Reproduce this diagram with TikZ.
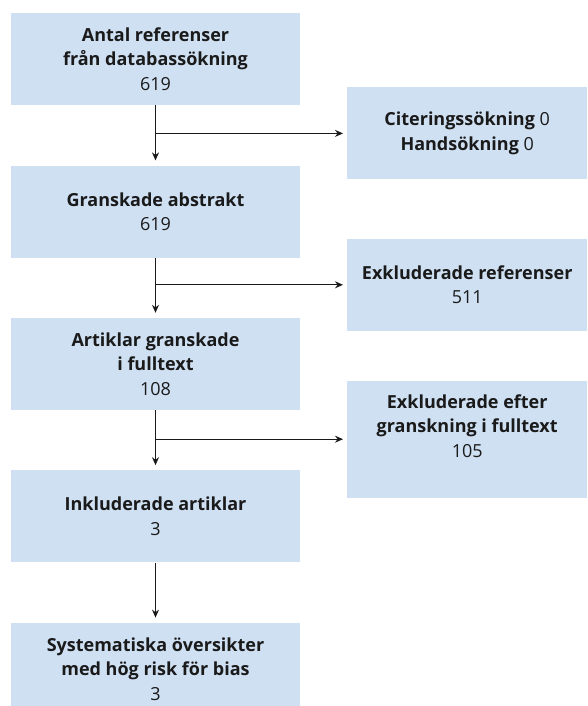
\documentclass[tikz,border=0pt]{standalone}
\usepackage{fontspec}
\setmainfont{Open Sans}
\usepackage{tikz}
\usetikzlibrary{positioning, arrows.meta}
\definecolor{boxblue}{RGB}{207,224,243}
\definecolor{ink}{RGB}{26,26,26}
\newcommand{\hd}[1]{{\bfseries #1}}

\begin{document}
\begin{tikzpicture}[x=1pt, y=1pt,
    stage/.style={fill=boxblue, minimum width=289pt, minimum height=92pt, align=center, inner sep=0pt, text=ink, font=\fontsize{18}{24.5}\selectfont},
    side/.style={fill=boxblue, minimum width=240pt, minimum height=92pt, align=center, inner sep=0pt, text=ink, font=\fontsize{18}{24.5}\selectfont, anchor=west},
    flow/.style={-{Stealth[length=8pt, width=7pt]}, line width=1.2pt, draw=ink}]
            \useasboundingbox (0,0) rectangle (587,-706);
            \node [stage, anchor=north] (found) at (155.5,-13) {\hd{Antal referenser}\\\hd{från databassökning}\\619};
            \node [stage, below=60pt of found] (abstract) {\hd{Granskade abstrakt}\\619};
            \node [stage, below=60pt of abstract] (fulltext) {\hd{Artiklar granskade}\\\hd{i fulltext}\\108};
            \node [stage, below=60pt of fulltext] (included) {\hd{Inkluderade artiklar}\\3};
            \node [stage, below=60pt of included] (bias) {\hd{Systematiska översikter}\\\hd{med hög risk för bias}\\3};

            % branch points on the main line
            \coordinate (split1) at ([yshift=-28pt]found.south);
            \coordinate (split2) at ([yshift=-27pt]abstract.south);
            \coordinate (split3) at ([yshift=-29pt]fulltext.south);

            \node [side, right=191.5pt of split1] (cited) {\hd{Citeringssökning} 0\\\hd{Handsökning} 0};
            \node [side, right=191.5pt of split2] (excluded) {\hd{Exkluderade referenser}\\511};
            \node [side, minimum height=117pt, right=191.5pt of split3] (dropped) {\hd{Exkluderade efter}\\\hd{granskning i fulltext}\\105\\[2pt]};

            \draw [flow, shorten >=5pt] (found) -- (abstract);
            \draw [flow, shorten >=5pt] (abstract) -- (fulltext);
            \draw [flow, shorten >=5pt] (fulltext) -- (included);
            \draw [flow, shorten >=5pt] (included) -- (bias);
            \draw [flow, shorten >=4pt] (split1) -- (cited);
            \draw [flow, shorten >=4pt] (split2) -- (excluded);
            \draw [flow, shorten >=4pt] (split3) -- (dropped);
        \end{tikzpicture}
\end{document}
